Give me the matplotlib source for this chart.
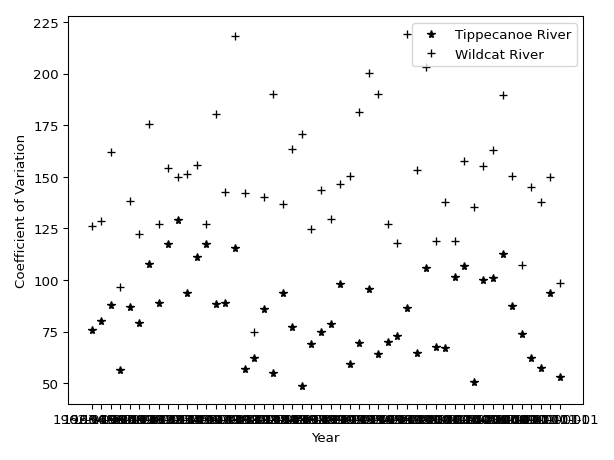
import matplotlib
matplotlib.use("Agg")
import matplotlib.pyplot as plt

years = [f"{y}-01-01" for y in range(1962, 2012)]

tippecanoe = [75.5, 79.9, 87.7, 56.4, 86.8, 78.9, 107.8, 88.7, 117.6, 128.9,
              93.6, 111.3, 117.2, 88.2, 88.7, 115.7, 56.9, 62.3, 85.8, 54.9,
              93.6, 77.0, 48.5, 69.1, 75.0, 78.6, 98.2, 59.4, 69.6, 95.4,
              64.2, 69.9, 73.0, 86.6, 64.7, 105.6, 67.7, 67.2, 101.2, 107.0,
              50.6, 100.2, 100.7, 112.4, 87.6, 74.0, 62.3, 57.4, 93.9, 53.1]

wildcat = [126.3, 128.8, 162.0, 96.4, 138.2, 122.4, 175.7, 127.3, 154.2, 149.9,
           151.2, 155.7, 127.3, 180.5, 142.6, 218.5, 142.1, 74.8, 140.3, 190.3,
           136.7, 163.5, 170.8, 124.8, 143.7, 129.7, 146.3, 150.2, 181.4, 200.1,
           190.3, 127.3, 117.7, 219.3, 153.1, 203.0, 119.0, 138.0, 119.0, 157.9,
           135.6, 155.3, 163.1, 189.8, 150.2, 107.3, 145.0, 137.6, 149.7, 98.6]

plt.figure(figsize=(6.4, 4.8), dpi=96)
plt.plot(years, tippecanoe, 'k*', label="Tippecanoe River")
plt.plot(years, wildcat, 'k+', label="Wildcat River")
plt.xlabel("Year")
plt.ylabel("Coefficient of Variation")
plt.legend(loc="upper right")
plt.subplots_adjust(left=0.111, right=0.9495, bottom=0.122, top=0.963)
plt.savefig("out.png")
